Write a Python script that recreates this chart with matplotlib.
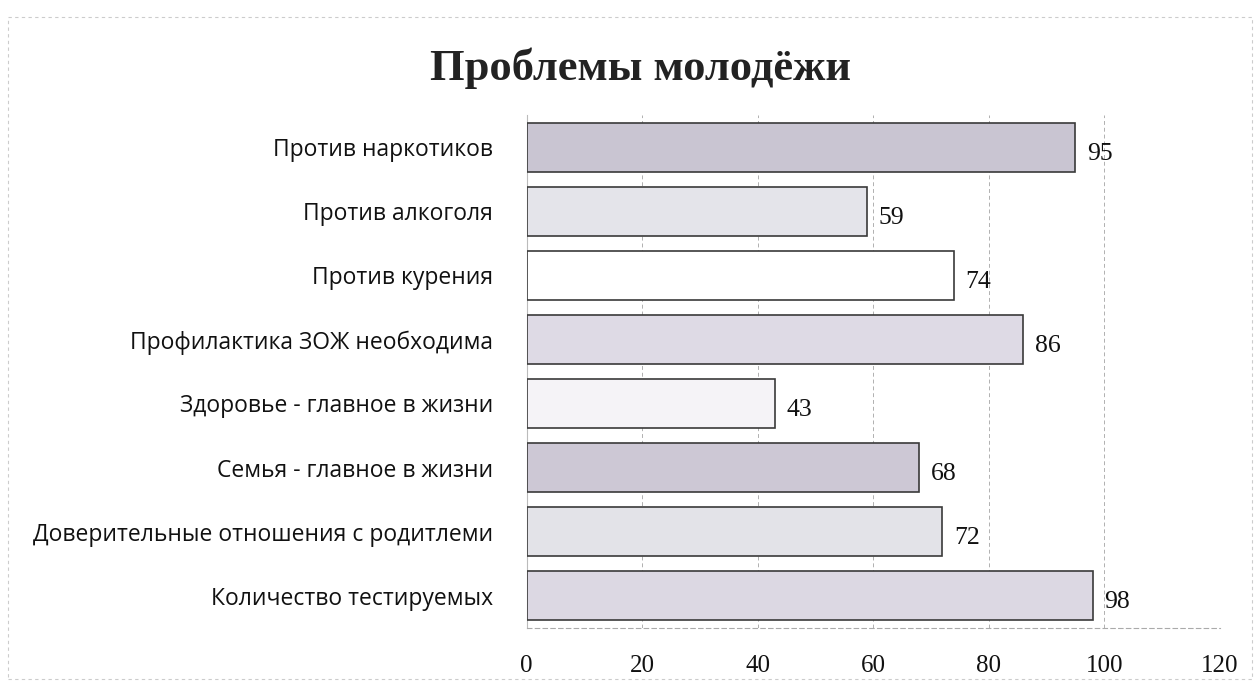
import matplotlib.pyplot as plt
from matplotlib.patches import Rectangle

# данные
categories = ["Против наркотиков", "Против алкоголя", "Против курения",
              "Профилактика ЗОЖ необходима", "Здоровье - главное в жизни",
              "Семья - главное в жизни", "Доверительные отношения с родитлеми",
              "Количество тестируемых"]
values = [95, 59, 74, 86, 43, 68, 72, 98]
bar_colors = ["#c9c5d2", "#e4e4ea", "#ffffff", "#dedae5",
              "#f5f3f7", "#cdc8d5", "#e3e3e8", "#dcd8e3"]
xticks = [0, 20, 40, 60, 80, 100, 120]

fig = plt.figure(figsize=(12.6, 6.86), dpi=100)
fig.patch.set_facecolor("white")
ax = fig.add_axes([0.418, 0.085, 0.55, 0.747])

y = list(range(len(categories)))
ax.barh(y, values, height=0.76, color=bar_colors, edgecolor="#3a3a3a", linewidth=1.2, zorder=3)

for yi, v in zip(y, values):
    ax.text(v + 2.0, yi + 0.1, str(v), va="center", ha="left",
            family="Liberation Serif", fontsize=18.5, color="#111111")

ax.set_xlim(0, 120)
ax.set_ylim(len(categories) - 0.5, -0.5)
ax.set_yticks(y)
ax.set_yticklabels(categories, family="Open Sans", fontsize=16.5, color="#111111")
ax.set_xticks(xticks)
ax.set_xticklabels([str(t) for t in xticks], family="Liberation Serif", fontsize=18, color="#111111")
ax.tick_params(axis="both", length=0)
ax.tick_params(axis="y", pad=24)
ax.tick_params(axis="x", pad=20)

ax.grid(axis="x", color="#b0b0b0", linestyle=(0, (4, 3)), linewidth=0.7, zorder=0)
for s in ["top", "right"]:
    ax.spines[s].set_visible(False)
ax.spines["left"].set_color("#bbbbbb")
ax.spines["bottom"].set_color("#aaaaaa")
ax.spines["bottom"].set_linestyle((0, (4, 3)))

fig.text(0.508, 0.9, "Проблемы молодёжи", ha="center", va="center",
         family="Liberation Serif", fontweight="bold", fontsize=32, color="#222222")

# рамка диаграммы
fig.patches.append(Rectangle((0.006, 0.01), 0.988, 0.965, transform=fig.transFigure,
                             fill=False, edgecolor="#cccccc", linewidth=0.8, linestyle=(0, (3, 3))))

fig.savefig("out.png", dpi=100, facecolor="white")
